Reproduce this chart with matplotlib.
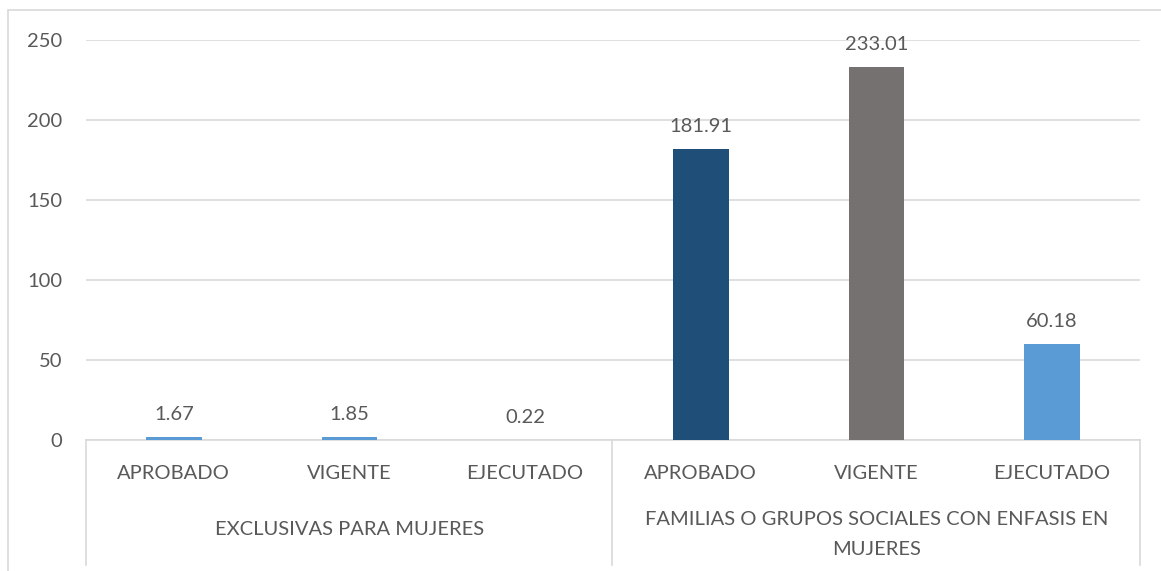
import matplotlib.pyplot as plt
from matplotlib.lines import Line2D
from matplotlib.patches import Rectangle

grupos = ['EXCLUSIVAS PARA MUJERES', 'FAMILIAS O GRUPOS SOCIALES CON ENFASIS EN\nMUJERES']
etapas = ['APROBADO', 'VIGENTE', 'EJECUTADO']
valores = [1.67, 1.85, 0.22, 181.91, 233.01, 60.18]
colores = ['#5B9BD5', '#5B9BD5', '#5B9BD5', '#1F4E79', '#767171', '#5B9BD5']

plt.rcParams['font.family'] = ['Lato', 'DejaVu Sans']
gris_txt = '#595959'
gris_lin = '#D9D9D9'
fs = 14.5
PT = 0.72  # puntos por pixel a 100 dpi

W, H = 1161, 571
fig = plt.figure(figsize=(W / 100, H / 100), dpi=100)
x0, x1, y0, y1 = 86, 1140, 40, 440
ax = fig.add_axes([x0 / W, 1 - y1 / H, (x1 - x0) / W, (y1 - y0) / H])

pos = [i + 0.5 for i in range(len(valores))]
bars = ax.bar(pos, valores, width=0.315, color=colores, zorder=3)
for b, v in zip(bars, valores):
    ax.annotate(f'{v:.2f}', (b.get_x() + b.get_width() / 2, v), xytext=(0, 17 * PT),
                textcoords='offset points', ha='center', va='baseline',
                fontsize=fs, color=gris_txt)

ax.set_xlim(0, len(valores))
ax.set_ylim(0, 250)
ax.set_yticks(range(0, 251, 50))
ax.yaxis.grid(True, color=gris_lin, linewidth=1.2, zorder=0)
ax.tick_params(axis='y', length=0, pad=24 * PT, labelsize=fs, labelcolor=gris_txt)
ax.set_xticks([])
for s in ['top', 'right', 'left']:
    ax.spines[s].set_visible(False)
ax.spines['bottom'].set_color(gris_lin)
ax.spines['bottom'].set_linewidth(1.2)

# etiquetas de categorias
for i, p in enumerate(pos):
    ax.annotate(etapas[i % 3], (p, 0), xycoords=('data', 'axes fraction'),
                xytext=(0, -39 * PT), textcoords='offset points',
                ha='center', va='baseline', fontsize=fs, color=gris_txt)
for g, nombre in enumerate(grupos):
    lineas = nombre.split('\n')
    primera = 95 - 10 * (len(lineas) - 1)
    for k, linea in enumerate(lineas):
        ax.annotate(linea, (1.5 + 3 * g, 0), xycoords=('data', 'axes fraction'),
                    xytext=(0, -(primera + 30 * k) * PT), textcoords='offset points',
                    ha='center', va='baseline', fontsize=fs, color=gris_txt)

# separadores verticales del eje
for xs in [x0, 612, x1]:
    fig.add_artist(Line2D([xs / W, xs / W], [1 - y1 / H, 1 - 565 / H],
                          color=gris_lin, linewidth=1.2))

# borde del grafico
fig.add_artist(Rectangle((8 / W, -0.1), 1.2, 1 - 10 / H + 0.1, fill=False,
                         edgecolor=gris_lin, linewidth=1.2, transform=fig.transFigure))

fig.savefig('out.png', dpi=100)
